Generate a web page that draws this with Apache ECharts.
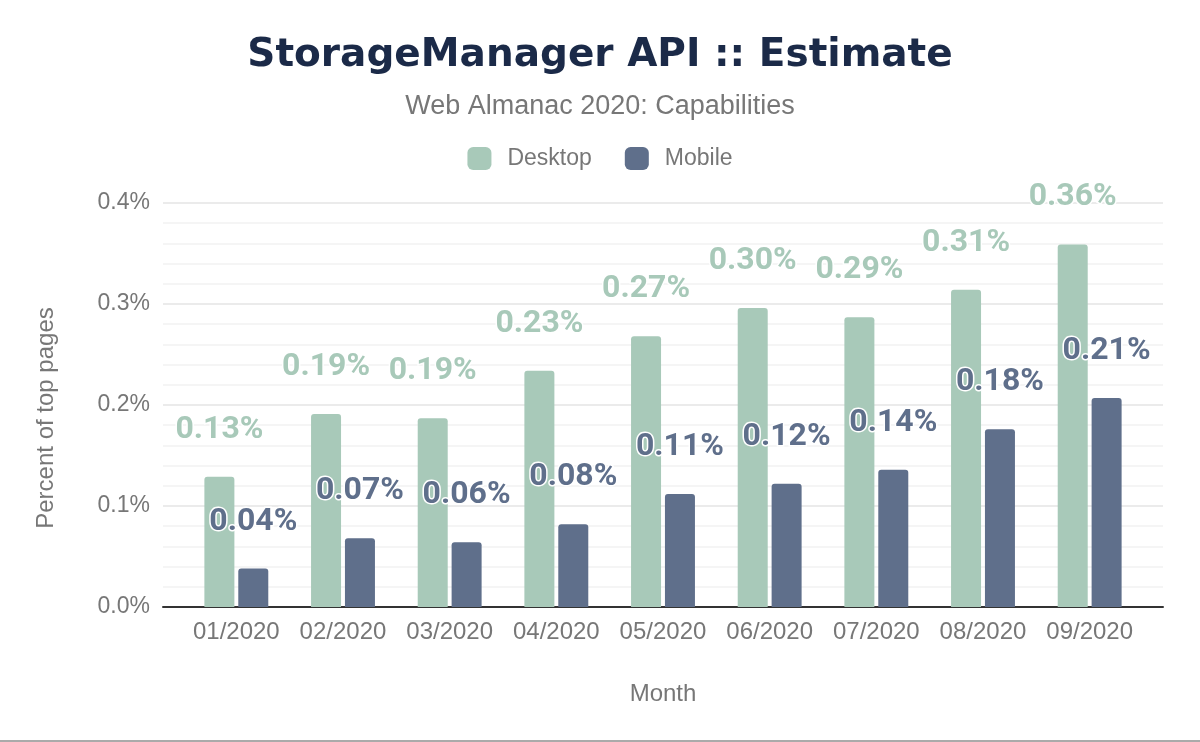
<!DOCTYPE html>
<html>
<head>
<meta charset="utf-8">
<title>StorageManager API :: Estimate</title>
<script src="https://cdn.jsdelivr.net/npm/echarts@6/dist/echarts.min.js"></script>
<style>
    html, body { margin: 0; padding: 0; background: #fff; }
    #chart { width: 1200px; height: 742px; }
</style>
</head>
<body>
<div id="chart"></div>
<script>
// data (percent of top pages)
var months = ["01/2020", "02/2020", "03/2020", "04/2020", "05/2020", "06/2020", "07/2020", "08/2020", "09/2020"];
var desktop = [0.129, 0.191, 0.187, 0.234, 0.268, 0.296, 0.287, 0.314, 0.359];
var mobile = [0.038, 0.068, 0.064, 0.082, 0.112, 0.122, 0.136, 0.176, 0.207];
var yTicks = [0, 0.1, 0.2, 0.3, 0.4];

(function () {
    var myChart = echarts.init(document.getElementById("chart"));
    var green = "#a8c9b9";
    var navy = "#5f6f8b";
    var gray = "#777";
    var font = "'Liberation Sans', Arial, sans-serif";

    function barLabel(color) {
        return {
            show: true,
            position: "top",
            distance: 31,
            formatter: function (p) { return p.value.toFixed(2) + "%"; },
            fontFamily: "Roboto",
            fontWeight: "bold",
            fontSize: 32,
            color: color,
            textBorderColor: "#fff",
            textBorderWidth: 3
        };
    }

    var option = {
        animation: false,
        title: [
            {
                text: "StorageManager API :: Estimate",
                left: "center",
                top: 31,
                textStyle: { fontFamily: "'DejaVu Sans', sans-serif", fontWeight: "bold", fontSize: 39, color: "#1b2a48" }
            },
            {
                text: "Web Almanac 2020: Capabilities",
                left: "center",
                top: 88,
                textStyle: { fontFamily: font, fontWeight: "normal", fontSize: 27, color: gray }
            }
        ],
        legend: {
            top: 142,
            left: "center",
            icon: "roundRect",
            itemWidth: 24,
            itemHeight: 23,
            itemGap: 33,
            textStyle: { fontFamily: font, fontSize: 23, color: gray, padding: [0, 0, 0, 11] },
            data: ["Desktop", "Mobile"]
        },
        // grid 0: wide one for gridlines / axis line, grid 1: bars
        grid: [
            { left: 163, right: 37, top: 203, bottom: 135 },
            { left: 183, right: 57, top: 203, bottom: 135 }
        ],
        xAxis: [
            {
                gridIndex: 0,
                type: "value",
                min: 0,
                max: 1,
                axisLine: { show: true, lineStyle: { color: "#333", width: 2 } },
                axisTick: { show: false },
                axisLabel: { show: false },
                splitLine: { show: false }
            },
            {
                gridIndex: 1,
                type: "category",
                data: months,
                axisLine: { show: false },
                axisTick: { show: false },
                axisLabel: { interval: 0, fontFamily: font, fontSize: 24, color: gray, margin: 13 },
                name: "Month",
                nameLocation: "middle",
                nameGap: 75,
                nameTextStyle: { fontFamily: font, fontSize: 24, color: gray }
            }
        ],
        yAxis: [
            {
                gridIndex: 0,
                type: "value",
                min: yTicks[0],
                max: yTicks[yTicks.length - 1],
                interval: 0.1,
                axisLine: { show: false },
                axisTick: { show: false },
                axisLabel: {
                    fontFamily: font,
                    fontSize: 23,
                    color: gray,
                    margin: 13,
                    formatter: function (v) { return v.toFixed(1) + "%"; }
                },
                splitLine: { lineStyle: { color: "#ebebeb", width: 2 } },
                minorTick: { show: false, splitNumber: 5 },
                minorSplitLine: { show: true, lineStyle: { color: "#f5f5f5", width: 2 } },
                name: "Percent of top pages",
                nameLocation: "middle",
                nameGap: 105,
                nameTextStyle: { fontFamily: font, fontSize: 24, color: gray, padding: [0, 26, 0, 0] }
            },
            {
                gridIndex: 1,
                type: "value",
                min: yTicks[0],
                max: yTicks[yTicks.length - 1],
                show: false
            }
        ],
        series: [
            {
                name: "Desktop",
                type: "bar",
                xAxisIndex: 1,
                yAxisIndex: 1,
                data: desktop,
                barWidth: 30,
                barGap: "13%",
                itemStyle: { color: green, borderRadius: [3, 3, 0, 0] },
                label: barLabel(green)
            },
            {
                name: "Mobile",
                type: "bar",
                xAxisIndex: 1,
                yAxisIndex: 1,
                data: mobile,
                barWidth: 30,
                barGap: "13%",
                itemStyle: { color: navy, borderRadius: [3, 3, 0, 0] },
                label: barLabel(navy)
            }
        ],
        // thin gray border at the bottom
        graphic: [
            { type: "rect", shape: { x: 0, y: 740, width: 1200, height: 2 }, style: { fill: "#aaa" } }
        ]
    };
    myChart.setOption(option);
    window.addEventListener("resize", function () {
        myChart.resize();
    });
})();
</script>
</body>
</html>
